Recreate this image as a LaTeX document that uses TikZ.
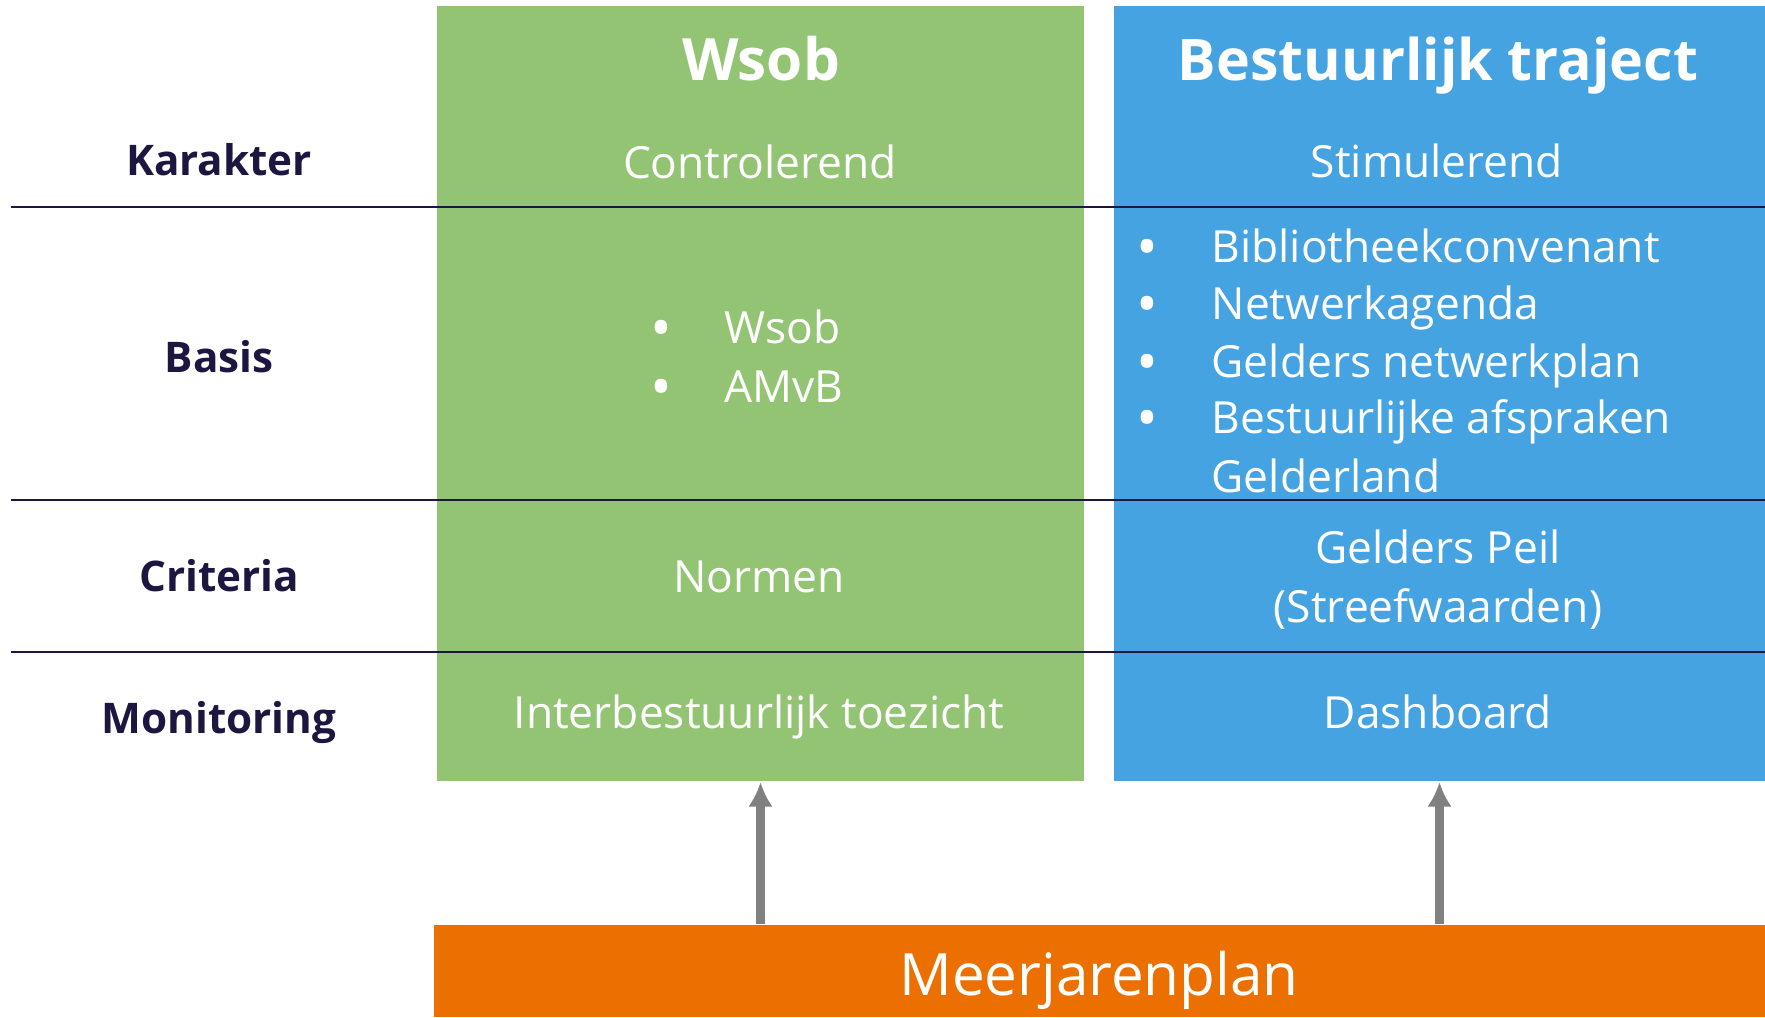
\documentclass[tikz,border=0pt]{standalone}
\usepackage{fontspec}
\setmainfont{Open Sans}
\usepackage{tikz}
\usetikzlibrary{arrows.meta}
\definecolor{wsobgreen}{RGB}{147, 196, 115}
\definecolor{trajblue}{RGB}{69, 163, 226}
\definecolor{planorange}{RGB}{236, 112, 0}
\definecolor{labnavy}{RGB}{28, 22, 64}
\definecolor{arrgray}{RGB}{128, 128, 128}

\begin{document}
\begin{tikzpicture}[x=0.01cm, y=-0.01cm,
  col/.style={inner sep=0pt, minimum height=7.75cm},
  rowlab/.style={font=\fontsize{12}{15}\selectfont\bfseries, text=labnavy, anchor=base},
  cell/.style={font=\fontsize{12.6}{16.8}\selectfont, text=white, anchor=base},
  item/.style={font=\fontsize{12.6}{16.8}\selectfont, text=white, anchor=base west, inner sep=0pt},
  dot/.style={font=\fontsize{16.5}{16.8}\selectfont, text=white, anchor=base, inner sep=0pt},
  arr/.style={arrgray, line width=2.3pt, -{Latex[length=7pt, width=7pt]}}]
\useasboundingbox (0,0) rectangle (1765,1017);

\node[col, fill=wsobgreen, minimum width=6.47cm] (wsob) at (760.5,393.5) {};
\node[col, fill=trajblue, minimum width=6.51cm] (traj) at (1439.5,393.5) {};
\node[fill=planorange, inner sep=0pt, minimum width=13.31cm, minimum height=0.92cm] (meer) at (1099.5,971) {};
\node[font=\fontsize{16.6}{20}\selectfont, text=white, anchor=base] (meertxt) at (1099,995) {Meerjarenplan};

\node[font=\fontsize{16.6}{20}\selectfont\bfseries, text=white, anchor=base] (wsobtitle) at (761,80) {Wsob};
\node[font=\fontsize{16.3}{20}\selectfont\bfseries, text=white, anchor=base] (trajtitle) at (1438,80) {Bestuurlijk traject};

\draw[labnavy, line width=0.6pt] (11,207) -- (1765,207);
\draw[labnavy, line width=0.6pt] (11,500) -- (1765,500);
\draw[labnavy, line width=0.6pt] (11,652) -- (1765,652);

\node[rowlab] (karakter) at (219,175) {Karakter};
\node[rowlab] (basis) at (219,372) {Basis};
\node[rowlab] (criteria) at (219,591) {Criteria};
\node[rowlab] (monitoring) at (219,733) {Monitoring};

\node[cell] (controlerend) at (760,178) {Controlerend};
\node[cell] (stimulerend) at (1437,177) {Stimulerend};

% basis lists
\node[dot] (bw1) at (661,348) {•};
\node[item] (wsobitem) at (724,343) {Wsob};
\node[dot] (bw2) at (661,407) {•};
\node[item] (amvb) at (724,402) {AMvB};

\node[dot] (bb1) at (1147,267) {•};
\node[item] (biblio) at (1211,262) {Bibliotheekconvenant};
\node[dot] (bb2) at (1147,324) {•};
\node[item] (netwerk) at (1211,319) {Netwerkagenda};
\node[dot] (bb3) at (1147,382) {•};
\node[item] (gelders) at (1211,377) {Gelders netwerkplan};
\node[dot] (bb4) at (1147,438) {•};
\node[item] (afspraken) at (1211,433) {Bestuurlijke afspraken};
\node[item] (gelderland) at (1211,492) {Gelderland};

\node[cell] (normen) at (759,592) {Normen};
\node[cell] (peil) at (1438,563) {Gelders Peil};
\node[cell] (streef) at (1438,622) {(Streefwaarden)};

\node[cell] (ibt) at (759,728) {Interbestuurlijk toezicht};
\node[cell] (dashboard) at (1438,728) {Dashboard};

\draw[arr] (wsob.south |- meer.north) -- (wsob.south);
\draw[arr] (traj.south |- meer.north) -- (traj.south);
\end{tikzpicture}
\end{document}
